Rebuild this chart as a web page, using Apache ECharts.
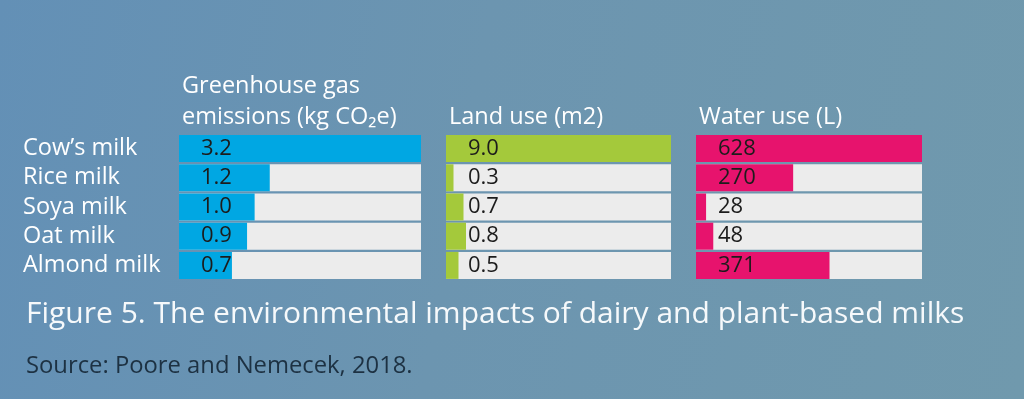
<!DOCTYPE html>
<html>
<head>
<meta charset="utf-8">
<script src="https://cdn.jsdelivr.net/npm/echarts@6/dist/echarts.min.js"></script>
<style>
  html, body { margin: 0; padding: 0; }
  #chart { width: 1024px; height: 399px; background: linear-gradient(100deg, #6390b6 0%, #6c95b0 45%, #7099ad 100%); }
</style>
</head>
<body>
<div id="chart"></div>
<script>
var milks = ['Cow\u2019s milk', 'Rice milk', 'Soya milk', 'Oat milk', 'Almond milk'];
var ghgValues = [3.2, 1.2, 1.0, 0.9, 0.7];
var landValues = [9.0, 0.3, 0.7, 0.8, 0.5];
var waterValues = [628, 270, 28, 48, 371];
var panelTitles = ['Greenhouse gas\nemissions (kg CO\u2082e)', 'Land use (m2)', 'Water use (L)'];
var panelColors = ['#00a7e3', '#a4c93b', '#e7136d'];
var chartTitle = 'Figure 5. The environmental impacts of dairy and plant-based milks';
var sourceText = 'Source: Poore and Nemecek, 2018.';

var font = '"Open Sans", "Noto Sans", sans-serif';
var panels = [
  { left: 179, width: 242, values: ghgValues, digits: 1 },
  { left: 446, width: 225, values: landValues, digits: 1 },
  { left: 696, width: 226, values: waterValues, digits: 0 }
];

var grids = [], xAxes = [], yAxes = [], series = [];
panels.forEach(function (p, i) {
  grids.push({ left: p.left, width: p.width, top: 134, height: 146 });
  xAxes.push({
    type: 'value', gridIndex: i, min: 0, max: 'dataMax',
    show: false
  });
  yAxes.push({
    type: 'category', gridIndex: i, data: milks, inverse: true,
    axisLine: { show: false }, axisTick: { show: false },
    axisLabel: {
      show: i === 0, interval: 0, hideOverlap: false,
      align: 'left', margin: 156,
      color: '#ffffff', fontSize: 23.5, fontFamily: font
    }
  });
  series.push({
    type: 'bar', xAxisIndex: i, yAxisIndex: i,
    data: p.values, barWidth: 27,
    itemStyle: { color: panelColors[i] },
    showBackground: true,
    backgroundStyle: { color: '#ececec' },
    label: {
      show: true, position: 'insideLeft', distance: 22,
      color: '#1c1c1c', fontSize: 22, fontFamily: font,
      formatter: function (d) { return d.value.toFixed(p.digits); }
    },
    animation: false
  });
});

var headStyle = { color: '#ffffff', fontSize: 23.5, fontWeight: 'normal', fontFamily: font, lineHeight: 31 };
var titles = [
  { text: panelTitles[0], left: 177, top: 66, textStyle: headStyle },
  { text: panelTitles[1], left: 444, top: 97, textStyle: headStyle },
  { text: panelTitles[2], left: 694, top: 97, textStyle: headStyle },
  { text: chartTitle, left: 21, top: 294,
    textStyle: { color: '#f6f9fb', fontSize: 30, fontWeight: 'normal', fontFamily: font, lineHeight: 30 } },
  { text: sourceText, left: 21, top: 350,
    textStyle: { color: '#1d3142', fontSize: 23.8, fontWeight: 'normal', fontFamily: font, lineHeight: 23 } }
];

var chart = echarts.init(document.getElementById('chart'));
chart.setOption({
  animation: false,
  title: titles,
  grid: grids,
  xAxis: xAxes,
  yAxis: yAxes,
  series: series
});
</script>
</body>
</html>
